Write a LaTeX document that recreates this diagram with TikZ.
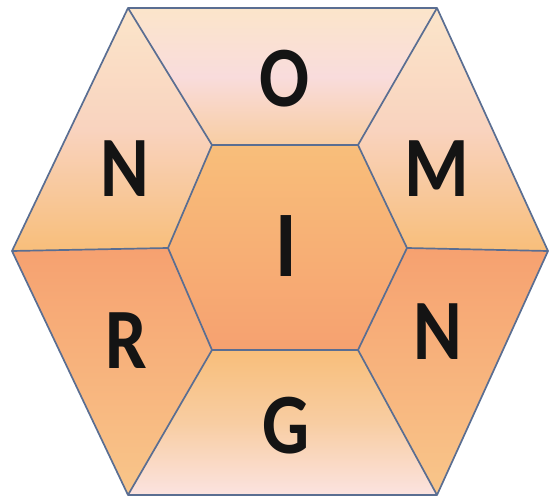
\documentclass[tikz,border=0pt]{standalone}
\usepackage{fontspec}
\setmainfont{Carlito}
\usepackage{xcolor}
\usepackage{tikz}
\usetikzlibrary{calc}

\definecolor{edgeblue}{HTML}{5A6E92}
\definecolor{peachtop}{HTML}{FBE5CA}
\definecolor{pinkmid}{HTML}{F9DCDC}
\definecolor{peachlow}{HTML}{F8CDA2}
\definecolor{orangelt}{HTML}{F8BE7A}
\definecolor{orangedk}{HTML}{F6A170}
\definecolor{pinklow}{HTML}{FBE3E0}

\newcommand{\glyph}[1]{\scalebox{0.86}[1]{#1}}

\begin{document}
\begin{tikzpicture}[x=1pt,y=-1pt,
	seg/.style={draw=edgeblue,line width=1.7pt,line join=round},
	letter/.style={font=\bfseries\fontsize{86}{86}\selectfont,text=black!92,inner sep=0pt}]
			
			\useasboundingbox (0,0) rectangle (550,503);
			
			% 外六边形顶点
			\coordinate (o1) at (128,8);
			\coordinate (o2) at (437,8);
			\coordinate (o3) at (548,251);
			\coordinate (o4) at (437,495);
			\coordinate (o5) at (128,495);
			\coordinate (o6) at (12,251);
			
			% 内六边形顶点
			\coordinate (i1) at (212,145);
			\coordinate (i2) at (358,145);
			\coordinate (i3) at (407,248);
			\coordinate (i4) at (358,350);
			\coordinate (i5) at (212,350);
			\coordinate (i6) at (168,248);
			
			% 六块梯形与中心
			\shade[top color=peachtop,bottom color=peachlow,middle color=pinkmid] (o1)--(o2)--(i2)--(i1)--cycle;
			\shade[top color=peachtop,bottom color=orangelt,middle color=pinkmid!70!orangelt] (o1)--(i1)--(i6)--(o6)--cycle;
			\shade[top color=peachtop,bottom color=orangelt,middle color=pinkmid!70!orangelt] (o2)--(o3)--(i3)--(i2)--cycle;
			\shade[top color=orangelt,bottom color=orangedk] (i1)--(i2)--(i3)--(i4)--(i5)--(i6)--cycle;
			\shade[top color=orangedk,bottom color=orangelt!80!peachtop] (o6)--(i6)--(i5)--(o5)--cycle;
			\shade[top color=orangedk,bottom color=orangelt!80!peachtop] (i3)--(o3)--(o4)--(i4)--cycle;
			\shade[top color=orangelt,bottom color=pinklow,middle color=peachlow] (i5)--(i4)--(o4)--(o5)--cycle;
			
			% 边线
			\draw[seg] (o1)--(o2)--(o3)--(o4)--(o5)--(o6)--cycle;
			\draw[seg] (i1)--(i2)--(i3)--(i4)--(i5)--(i6)--cycle;
			\foreach \k in {1,...,6}
				\draw[seg] (o\k)--(i\k);
			
			% 字母
			\node[letter] (lo) at (285,79) {\glyph{O}};
			\node[letter] (ln1) at (125,169) {\glyph{N}};
			\node[letter] (lm) at (437,169) {\glyph{M}};
			\node[letter,font=\bfseries\fontsize{94}{94}\selectfont] (li) at (286,246) {\glyph{I}};
			\node[letter] (lr) at (126,341) {\glyph{R}};
			\node[letter] (ln2) at (438,332) {\glyph{N}};
			\node[letter] (lg) at (286,426) {\glyph{G}};
			
		\end{tikzpicture}
\end{document}
